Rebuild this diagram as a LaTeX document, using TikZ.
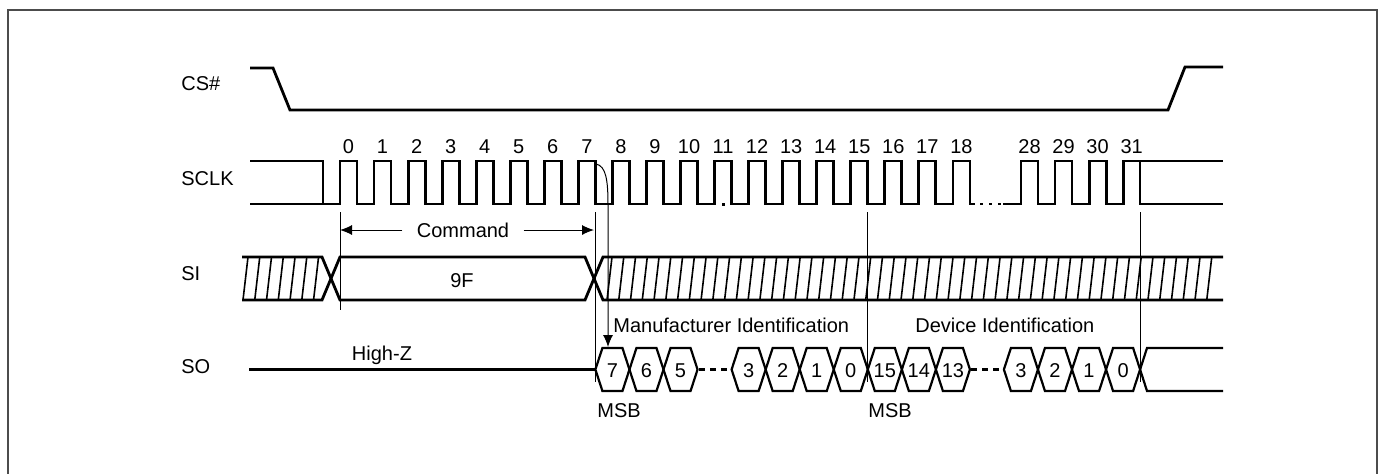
\documentclass[tikz,border=0pt]{standalone}
\usepackage{fontspec}
\setmainfont{Liberation Sans}
\usetikzlibrary{arrows.meta}

\begin{document}
\begin{tikzpicture}[x=0.5pt, y=-0.5pt, font=\fontsize{10}{12}\selectfont,
    sig/.style={line width=1.4pt},
    cell/.style={line width=1.1pt},
    thin/.style={line width=0.5pt},
    hatch/.style={line width=0.8pt},
    lbl/.style={inner sep=0pt, anchor=base west},
    num/.style={inner sep=0pt, anchor=base},
    tip/.style={-{Latex[length=6pt, width=5pt]}}]
  \useasboundingbox (0,0) rectangle (1382,473);
  % frame
  \draw[black!70, line width=0.9pt] (8,480) -- (8,10) -- (1377,10) -- (1377,480);
  % signal names
  \node[lbl] (cs) at (181,90) {CS\#};
  \node[lbl] (sclk) at (181,185) {SCLK};
  \node[lbl] (si) at (181,280) {SI};
  \node[lbl] (so) at (181,373) {SO};
  % chip select
  \draw[sig] (250,68) -- (273,68) -- (290,110) -- (1168,110) -- (1185,67) -- (1223,67);
  % clock
  \draw[sig] (250,161) -- (323,161) -- (323,204);
  \draw[sig] (250,204) -- (340,204)
    \foreach \k in {0,...,17} {-- ++(0,-43) -- ++(17,0) -- ++(0,43) -- ++(17.05,0)}
    -- ++(0,-43) -- ++(17,0) -- ++(0,43) -- ++(5,0);
  \fill (721.5,202.5) rectangle (724.5,205.5);
  \draw[sig, dash pattern=on 1.5pt off 3pt] (980,204) -- (1001,204);
  \draw[sig] (1003,204) -- (1021,204)
    \foreach \k in {28,29,30} {-- ++(0,-43) -- ++(17,0) -- ++(0,43) -- ++(17.05,0)}
    -- ++(0,-43) -- (1223,161);
  \draw[sig] (1140,161) -- (1140,204) -- (1223,204);
  % clock numbers
  \foreach \k in {0,...,18}
    \node[num] (c\k) at ({348.5+34.05*\k},153) {\k};
  \foreach \k [count=\i from 0] in {28,...,31}
    \node[num] (c\k) at ({1029.5+34.05*\i},153) {\k};
  % timing markers
  \draw[thin] (340,212) -- (340,310);
  \draw[thin] (595,212) -- (595,382);
  \draw[thin] (867.5,212) -- (867.5,382);
  \draw[thin] (1140,212) -- (1140,382);
  % command span
  \node[inner sep=0pt] (cmd) at (463,230) {Command};
  \coordinate (cmdL) at (340,230);
  \coordinate (cmdR) at (594,230);
  \draw[thin, tip] ([xshift=-7pt]cmd.west) -- (cmdL);
  \draw[thin, tip] ([xshift=7pt]cmd.east) -- (cmdR);
  % serial input
  \draw[sig] (242,257) -- (322,257) -- (340,300) -- (585,300) -- (603,257) -- (1223,257);
  \draw[sig] (242,300) -- (322,300) -- (340,257) -- (585,257) -- (603,300) -- (1223,300);
  \begin{scope}
    \clip (240,257) -- (322,257) -- (331,278.5) -- (322,300) -- (240,300) -- cycle;
    \foreach \i in {0,...,6}
      \draw[hatch] ({243+11.76*\i},300) -- ++(5,-43);
  \end{scope}
  \begin{scope}
    \clip (603,257) -- (1223,257) -- (1223,300) -- (603,300) -- (594,278.5) -- cycle;
    \foreach \i in {0,...,51}
      \draw[hatch] ({607+11.76*\i},300) -- ++(5,-43);
  \end{scope}
  \node[num] (cmdval) at (462,287) {9F};
  % serial output
  \draw[sig] (249,369.5) -- (595.4,369.5);
  \node[num] (hiz) at (382,360) {High-Z};
  \foreach \a/\t [count=\n] in {595.4/7, 629.45/6, 663.5/5, 731.6/3, 765.65/2,
      799.7/1, 833.75/0, 867.8/15, 901.85/14, 935.9/13, 1003.9/3, 1037.95/2,
      1072/1, 1106.05/0} {
    \draw[cell] (\a,369.5) -- ++(7,-21.5) -- ++(20.05,0) -- ++(7,21.5)
      -- ++(-7,21.5) -- ++(-20.05,0) -- cycle;
    \node[num] (bit\n) at ({\a+17},377) {\t};
  }
  \draw[cell, dash pattern=on 3pt off 2.5pt] (699,369.5) -- (731,369.5);
  \draw[cell, dash pattern=on 3pt off 2.5pt] (971,369.5) -- (1003,369.5);
  \draw[cell] (1223,348) -- (1147,348) -- (1140.1,369.5) -- (1147,391) -- (1223,391);
  \node[lbl] (manid) at (613,332) {Manufacturer Identification};
  \node[lbl] (devid) at (915,332) {Device Identification};
  \node[lbl] (msb1) at (597,417) {MSB};
  \node[lbl] (msb2) at (868,417) {MSB};
  % first output bit follows falling edge 7
  \coordinate (edge7) at (596,164);
  \coordinate (out7) at (608,347);
  \draw[thin, tip] (edge7) .. controls (606,166) and (608,180) .. (608,205) -- (out7);
\end{tikzpicture}
\end{document}
